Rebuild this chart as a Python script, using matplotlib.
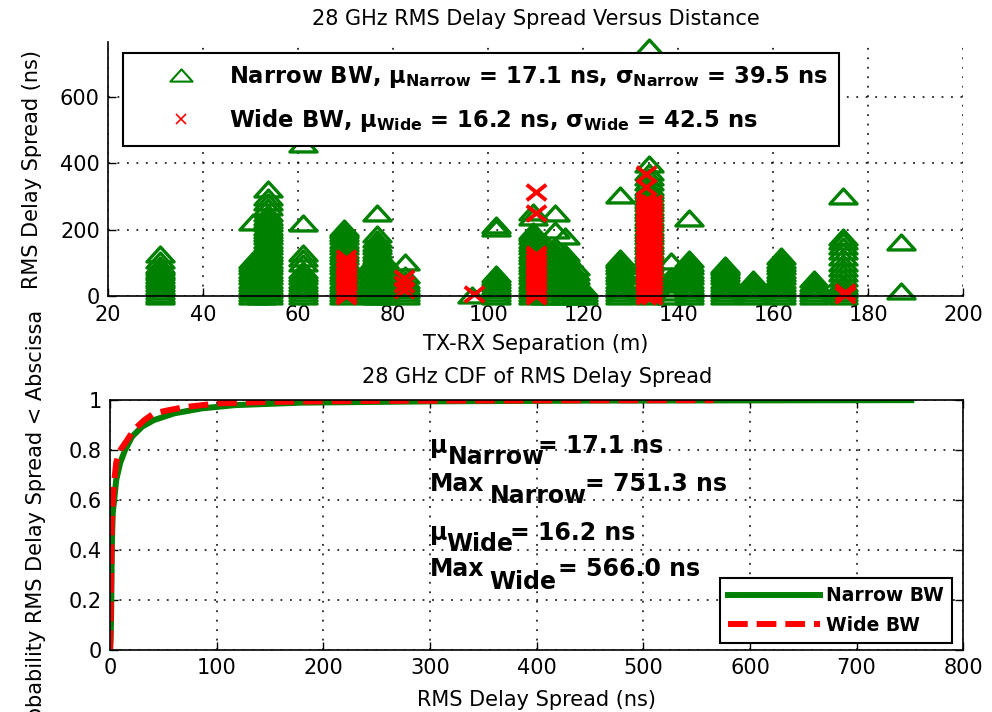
import numpy as np
import matplotlib
matplotlib.use('Agg')
import matplotlib.pyplot as plt
from matplotlib.path import Path
from matplotlib.lines import Line2D

plt.rcParams['font.family'] = 'DejaVu Sans'
plt.rcParams['mathtext.fontset'] = 'custom'
plt.rcParams['mathtext.rm'] = 'DejaVu Sans:bold'
plt.rcParams['mathtext.it'] = 'DejaVu Sans:bold'
plt.rcParams['mathtext.bf'] = 'DejaVu Sans:bold'

# ---- data ----
# RMS delay spread (ns) per TX-RX location (m), narrow beamwidth
narrow_dist = [31.0, 50.6, 52.2, 53.7, 61.0, 69.7, 75.5, 76.7, 78.0, 82.5,
               96.6, 101.7, 109.5, 112.0, 114.0, 116.2, 118.2, 120.0, 127.8,
               133.9, 138.5, 142.3, 149.8, 155.7, 161.6, 168.6, 174.7, 186.9]
narrow_rms = [
    [0, 8, 16, 24, 32, 40, 48, 56, 64, 72, 80, 88, 95, 110, 126],
    [0, 10, 20, 30, 40, 50, 60, 70, 80, 90, 100, 108, 224],
    [0, 12, 25, 37, 50, 62, 75, 88],
    [0, 10, 20, 30, 40, 50, 60, 70, 80, 90, 100, 110, 120, 130, 140, 150,
     160, 170, 180, 190, 200, 210, 220, 230, 240, 250, 268, 285, 298, 322],
    [0, 10, 20, 30, 40, 50, 60, 70, 80, 100, 115, 131, 221, 458],
    [0, 10, 20, 30, 40, 50, 60, 70, 80, 90, 100, 110, 120, 130, 140, 150,
     160, 170, 180, 190, 198, 206],
    [0, 12, 25, 37, 50, 62, 75, 88, 100],
    [0, 10, 20, 30, 40, 50, 60, 70, 80, 90, 100, 110, 120, 130, 140, 150,
     160, 172, 187, 250],
    [0, 12, 25, 37, 50, 62, 75, 88, 100, 110],
    [0, 10, 20, 30, 40, 50, 63, 103],
    [5],
    [0, 10, 20, 30, 40, 50, 58, 66, 205, 214],
    [0, 10, 20, 30, 40, 50, 60, 70, 80, 90, 100, 110, 120, 130, 140, 150,
     160, 170, 180, 190, 197, 240, 254],
    [0, 12, 24, 36, 48, 60, 72, 84, 96, 108, 120, 132, 144, 160],
    [0, 12, 24, 36, 48, 60, 72, 84, 96, 108, 120, 135, 150, 200, 250],
    [0, 12, 24, 36, 48, 60, 72, 84, 96, 108, 120, 130, 180],
    [0, 12, 24, 36, 48, 60, 72, 87],
    [0, 10, 18, 26],
    [0, 10, 20, 30, 40, 50, 60, 70, 80, 90, 100, 108, 116, 304],
    [0, 10, 20, 30, 40, 50, 60, 70, 80, 90, 100, 110, 120, 130, 140, 150,
     160, 170, 180, 190, 200, 210, 220, 230, 240, 250, 260, 270, 280, 290,
     300, 310, 320, 330, 345, 360, 375, 398, 751.3],
    [0, 12, 24, 36, 48, 60, 105],
    [0, 10, 20, 30, 40, 50, 60, 70, 80, 90, 100, 111, 237],
    [0, 10, 20, 30, 40, 50, 60, 70, 80, 88, 95],
    [0, 10, 20, 30, 40, 51],
    [0, 10, 20, 30, 40, 50, 60, 70, 80, 90, 100, 110, 121],
    [0, 10, 20, 30, 40, 51],
    [0, 10, 20, 30, 40, 54, 70, 85, 100, 118, 135, 150, 165, 179, 302],
    [16, 164],
]

# wide beamwidth
wide_dist = [70.1, 82.2, 97.0, 110.0, 133.3, 134.5, 175.2]
wide_rms = [
    [0, 8, 16, 24, 32, 40, 48, 56, 64, 72, 80, 88, 96, 104, 114],
    [18, 36, 54],
    [8],
    [0, 8, 16, 24, 32, 40, 48, 56, 64, 72, 80, 88, 96, 104, 112, 120, 128,
     251, 313],
    [0, 8, 16, 24, 32, 40, 48, 56, 64, 72, 80, 88, 96, 104, 112, 120, 128,
     136, 144, 152, 160, 168, 176, 184, 192, 200, 208, 216, 224, 232, 240,
     248, 256, 264, 272, 280, 290, 329, 368, 566.0],
    [0, 10, 20, 30, 40, 50, 60, 70, 80, 90, 100, 110, 120, 130, 140, 150,
     160, 170, 180, 190, 200, 210, 220, 230, 240, 250, 260, 270, 280],
    [5, 14],
]

narrow_mean, narrow_std, narrow_max = 17.1, 39.5, 751.3
wide_mean, wide_std, wide_max = 16.2, 42.5, 566.0

# CDF curves
cdf_narrow_x = [0, 0.5, 1.0, 1.6, 2.5, 3.8, 5.7, 9.5, 14, 20.6, 30, 41, 60,
                86, 117, 180, 300, 450, 600, 751.3]
cdf_narrow_p = [0, 0.05, 0.15, 0.42, 0.55, 0.6, 0.68, 0.75, 0.8, 0.854, 0.894,
                0.92, 0.947, 0.967, 0.98, 0.99, 0.995, 0.998, 0.999, 1.0]
cdf_wide_x = [0, 0.5, 1.0, 1.5, 2.5, 4, 5.7, 9.5, 16, 22, 32, 41, 55, 70, 101,
              150, 250, 400, 566.0]
cdf_wide_p = [0, 0.1, 0.3, 0.5, 0.6, 0.68, 0.75, 0.8, 0.84, 0.88, 0.92, 0.947,
              0.96, 0.972, 0.987, 0.993, 0.997, 0.999, 1.0]

green = '#008000'
red = '#ff0000'

# wide-looking markers like the stretched original
tri = Path([(-1, -0.55), (1, -0.55), (0, 0.55), (-1, -0.55)],
           [Path.MOVETO, Path.LINETO, Path.LINETO, Path.CLOSEPOLY])
cross = Path([(-1, -0.8), (1, 0.8), (-1, 0.8), (1, -0.8)],
             [Path.MOVETO, Path.LINETO, Path.MOVETO, Path.LINETO])

fig = plt.figure(figsize=(9.92, 7.12), dpi=100)
ax1 = fig.add_axes([0.109, 0.584, 0.862, 0.357])
ax2 = fig.add_axes([0.111, 0.087, 0.860, 0.351])

grid_kw = dict(color='black', linestyle=(0, (1.2, 5)), linewidth=1.1)

# ---- top: scatter versus distance ----
nx = np.concatenate([[d] * len(v) for d, v in zip(narrow_dist, narrow_rms)])
ny = np.concatenate(narrow_rms)
wx = np.concatenate([[d] * len(v) for d, v in zip(wide_dist, wide_rms)])
wy = np.concatenate(wide_rms)

ax1.plot(nx, ny, linestyle='none', marker=tri, ms=19.5, mfc='none',
         mec=green, mew=2.4, clip_on=False)
ax1.plot(wx, wy, linestyle='none', marker=cross, ms=14, mec=red, mew=2.8,
         clip_on=False)

ax1.set_xlim(20, 200)
ax1.set_ylim(0, 766)
ax1.set_xticks(np.arange(20, 201, 20))
ax1.set_yticks([0, 200, 400, 600])
ax1.grid(True, **grid_kw)
ax1.spines['top'].set_visible(False)
ax1.spines['right'].set_visible(False)
ax1.set_title('28 GHz RMS Delay Spread Versus Distance', fontsize=15, pad=12)
ax1.set_xlabel('TX-RX Separation (m)', fontsize=15, labelpad=7)
ax1.set_ylabel('RMS Delay Spread (ns)', fontsize=15, labelpad=13)

h_n = Line2D([], [], linestyle='none', marker=tri, ms=16, mfc='none',
             mec=green, mew=1.5)
h_w = Line2D([], [], linestyle='none', marker='x', ms=7, mec=red, mew=1.2)
lab_n = (r'Narrow BW, $\mu_{Narrow}$ = %.1f ns, $\sigma_{Narrow}$ = %.1f ns'
         % (narrow_mean, narrow_std))
lab_w = (r'Wide BW, $\mu_{Wide}$ = %.1f ns, $\sigma_{Wide}$ = %.1f ns'
         % (wide_mean, wide_std))
leg1 = ax1.legend([h_n, h_w], [lab_n, lab_w], loc='upper left',
                  bbox_to_anchor=(0.0175, 0.957), borderaxespad=0,
                  prop={'weight': 'bold', 'size': 16.3}, handlelength=4.1,
                  handletextpad=0.1, borderpad=0.5, labelspacing=0.75,
                  fancybox=False, framealpha=1, edgecolor='black')
leg1.get_frame().set_linewidth(1.5)

# ---- bottom: CDF ----
ax2.plot(cdf_narrow_x, cdf_narrow_p, color=green, lw=4.3, label='Narrow BW')
ax2.plot(cdf_wide_x, cdf_wide_p, color=red, lw=4.3, dashes=(3.3, 1.5),
         label='Wide BW')
ax2.set_xlim(0, 800)
ax2.set_ylim(0, 1)
ax2.set_xticks(np.arange(0, 801, 100))
ax2.set_yticks([0, 0.2, 0.4, 0.6, 0.8, 1])
ax2.set_yticklabels(['0', '0.2', '0.4', '0.6', '0.8', '1'])
ax2.grid(True, **grid_kw)
ax2.set_title('28 GHz CDF of RMS Delay Spread', fontsize=15, pad=12)
ax2.set_xlabel('RMS Delay Spread (ns)', fontsize=15, labelpad=8)
ax2.set_ylabel('Probability RMS Delay Spread < Abscissa', fontsize=15,
               labelpad=16)
ax2.tick_params(top=True, right=True)

leg2 = ax2.legend(loc='lower right', bbox_to_anchor=(0.987, 0.028),
                  borderaxespad=0, prop={'weight': 'bold', 'size': 13.5},
                  handlelength=4.9, handletextpad=0.3, borderpad=0.45,
                  labelspacing=0.55, fancybox=False, framealpha=1,
                  edgecolor='black')
leg2.get_frame().set_linewidth(1.5)

# statistics annotations (base, subscript, value)
tk = dict(fontsize=17, fontweight='bold', va='baseline')
ax2.text(300, 0.79, '\u03bc', **tk)
ax2.text(317, 0.744, 'Narrow', **tk)
ax2.text(401, 0.79, '= %.1f ns' % narrow_mean, **tk)
ax2.text(300, 0.637, 'Max', **tk)
ax2.text(356, 0.59, 'Narrow', **tk)
ax2.text(445, 0.637, '= %.1f ns' % narrow_max, **tk)
ax2.text(300, 0.442, '\u03bc', **tk)
ax2.text(315, 0.396, 'Wide', **tk)
ax2.text(375, 0.442, '= %.1f ns' % wide_mean, **tk)
ax2.text(300, 0.298, 'Max', **tk)
ax2.text(356, 0.243, 'Wide', **tk)
ax2.text(420, 0.298, '= %.1f ns' % wide_max, **tk)

for ax in (ax1, ax2):
    ax.tick_params(direction='in', length=6, width=1, labelsize=15, pad=6)
    for s in ax.spines.values():
        s.set_linewidth(1.2)

fig.savefig('out.png', dpi=100, facecolor='white')
